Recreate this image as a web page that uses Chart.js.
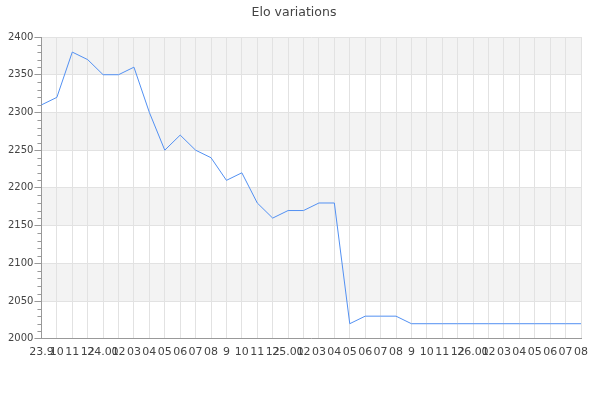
<!DOCTYPE html>
<html>
<head>
<meta charset="utf-8">
<script src="https://cdn.jsdelivr.net/npm/chart.js@4/dist/chart.umd.min.js"></script>
<style>
  html, body { margin: 0; padding: 0; background: #fff; }
  #wrap { width: 600px; height: 400px; }
</style>
</head>
<body>
<div id="wrap"><canvas id="c" width="600" height="400"></canvas></div>
<script>
const labels = ["23.9","10","11","12","24.01","02","03","04","05","06","07","08","9","10","11","12","25.01","02","03","04","05","06","07","08","9","10","11","12","26.01","02","03","04","05","06","07","08"];
const elo = [2310,2320,2380,2370,2350,2350,2360,2300,2250,2270,2250,2240,2210,2220,2180,2160,2170,2170,2180,2180,2020,2030,2030,2030,2020,2020,2020,2020,2020,2020,2020,2020,2020,2020,2020,2020];
const yMin = 2000, yMax = 2400, yStep = 50, yMinorStep = 10;
const bandStarts = [2050, 2150, 2250, 2350];

const bandsPlugin = {
  id: 'bands',
  beforeDraw(chart) {
    const { ctx, chartArea, scales } = chart;
    const y = scales.y;
    ctx.save();
    ctx.fillStyle = '#f3f3f3';
    bandStarts.forEach(b => {
      const top = y.getPixelForValue(b + yStep);
      const bot = y.getPixelForValue(b);
      ctx.fillRect(chartArea.left, top, chartArea.right - chartArea.left, bot - top);
    });
    ctx.restore();
  }
};

const minorTicksPlugin = {
  id: 'minorTicks',
  afterDraw(chart) {
    const { ctx, scales, chartArea } = chart;
    const y = scales.y;
    ctx.save();
    ctx.strokeStyle = '#999';
    ctx.lineWidth = 1;
    for (let v = yMin; v <= yMax; v += yMinorStep) {
      if (v % yStep === 0) continue;
      const p = Math.round(y.getPixelForValue(v)) + 0.5;
      ctx.beginPath();
      ctx.moveTo(chartArea.left - 4, p);
      ctx.lineTo(chartArea.left, p);
      ctx.stroke();
    }
    ctx.restore();
  }
};

new Chart(document.getElementById('c'), {
  type: 'line',
  data: {
    labels: labels,
    datasets: [{
      data: elo,
      borderColor: '#5290f2',
      borderWidth: 1,
      pointRadius: 0,
      fill: false,
      tension: 0
    }]
  },
  options: {
    responsive: false,
    animation: false,
    devicePixelRatio: 1,
    layout: { padding: { left: 7, right: 19, top: 0, bottom: 34 } },
    plugins: {
      legend: { display: false },
      tooltip: { enabled: false },
      title: {
        display: true,
        text: 'Elo variations',
        color: '#444',
        font: { family: 'DejaVu Sans', size: 12.5, weight: 'normal' },
        padding: { top: 5, bottom: 17 }
      }
    },
    scales: {
      x: {
        offset: false,
        grid: { color: '#e2e2e2', drawTicks: false },
        border: { color: '#999' },
        ticks: {
          autoSkip: false, maxRotation: 0, minRotation: 0, padding: 7,
          color: '#444',
          font: { family: 'DejaVu Sans', size: 11 }
        }
      },
      y: {
        min: yMin, max: yMax,
        grid: { color: '#e2e2e2', tickColor: '#999', tickLength: 7 },
        border: { color: '#999' },
        ticks: {
          stepSize: yStep, padding: 1,
          color: '#444',
          font: { family: 'DejaVu Sans', size: 10 },
          callback: (v) => String(v)
        }
      }
    }
  },
  plugins: [bandsPlugin, minorTicksPlugin]
});
</script>
</body>
</html>
